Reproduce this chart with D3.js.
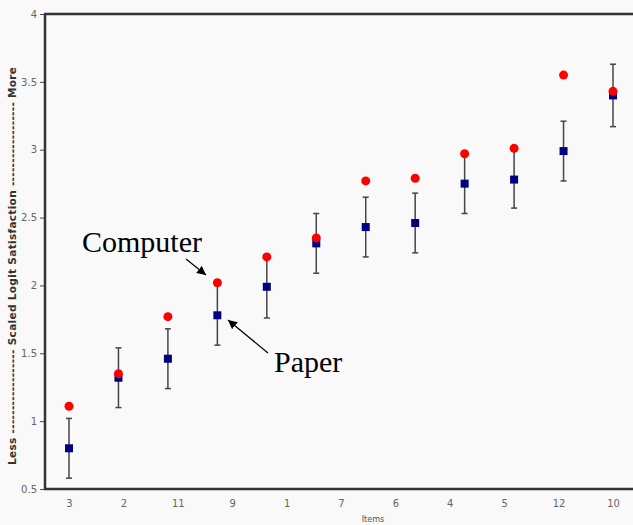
<!DOCTYPE html>
<html>
<head>
<meta charset="utf-8">
<script src="https://cdn.jsdelivr.net/npm/d3@7"></script>
<style>
  body { margin: 0; background: #f9f9f9; }
  svg { display: block; }
</style>
</head>
<body>
<div id="chart"></div>
<script>
// items shown under the axis (11 labels, 12 plotted pairs as in the original figure)
const itemLabels = ["3", "2", "11", "9", "1", "7", "6", "4", "5", "12", "10"];
const computerScores = [1.11, 1.35, 1.77, 2.02, 2.21, 2.35, 2.77, 2.79, 2.97, 3.01, 3.55, 3.43];
const paperScores = [0.80, 1.32, 1.46, 1.78, 1.99, 2.31, 2.43, 2.46, 2.75, 2.78, 2.99, 3.40];
const paperErrors = [0.22, 0.22, 0.22, 0.22, 0.23, 0.22, 0.22, 0.22, 0.22, 0.21, 0.22, 0.23];
const yTicks = [0.5, 1, 1.5, 2, 2.5, 3, 3.5, 4];

const width = 633, height = 525;
const margin = { top: 14, right: 0, bottom: 36, left: 45 };

const svg = d3.select("#chart")
  .append("svg")
  .attr("width", width)
  .attr("height", height);

const y = d3.scaleLinear().domain([0.5, 4]).range([height - margin.bottom, margin.top]);
const x = d3.scaleLinear().domain([0, paperScores.length - 1]).range([69, 613]);
const xLab = d3.scalePoint().domain(itemLabels).range([69, 613]);

// y axis
const yAxis = d3.axisLeft(y).tickValues(yTicks).tickSize(5).tickFormat(d3.format("~g"));
const gy = svg.append("g")
  .attr("transform", "translate(" + margin.left + ",0)")
  .call(yAxis);
gy.select(".domain").remove();
gy.selectAll(".tick line").attr("stroke", "#444");
gy.selectAll(".tick text")
  .attr("x", -8)
  .attr("fill", "#666")
  .style("font-family", "DejaVu Sans, Verdana, sans-serif")
  .style("font-size", "10px");

// x labels
const gx = svg.append("g")
  .attr("transform", "translate(0," + (height - margin.bottom) + ")")
  .call(d3.axisBottom(xLab).tickSize(0).tickPadding(11));
gx.select(".domain").remove();
gx.selectAll(".tick text")
  .attr("fill", "#666")
  .style("font-family", "DejaVu Sans, Verdana, sans-serif")
  .style("font-size", "10px");

// frame: left, top, bottom
const frame = svg.append("g").attr("stroke", "#333").attr("stroke-width", 2.5);
frame.append("line")
  .attr("x1", margin.left).attr("x2", margin.left)
  .attr("y1", margin.top).attr("y2", height - margin.bottom);
frame.append("line")
  .attr("x1", margin.left - 1).attr("x2", width)
  .attr("y1", margin.top).attr("y2", margin.top);
frame.append("line")
  .attr("x1", margin.left - 1).attr("x2", width)
  .attr("y1", height - margin.bottom).attr("y2", height - margin.bottom);

// axis titles
svg.append("text")
  .attr("x", 373).attr("y", 522)
  .attr("text-anchor", "middle")
  .attr("fill", "#555")
  .style("font-family", "DejaVu Sans Condensed, DejaVu Sans, sans-serif")
  .style("font-size", "9px")
  .text("Items");

svg.append("text")
  .attr("transform", "translate(16,266) rotate(-90)")
  .attr("text-anchor", "middle")
  .attr("fill", "#333")
  .attr("textLength", 398)
  .attr("lengthAdjust", "spacing")
  .style("font-family", "DejaVu Sans, Verdana, sans-serif")
  .style("font-weight", "bold")
  .style("font-size", "10.5px")
  .text("Less ------------------ Scaled Logit Satisfaction ------------------ More");

// error bars on paper scores
const bars = svg.append("g").attr("stroke", "#444").attr("stroke-width", 1.5);
paperScores.forEach((v, i) => {
  const cx = x(i), lo = y(v - paperErrors[i]), hi = y(v + paperErrors[i]);
  bars.append("line").attr("x1", cx).attr("x2", cx).attr("y1", lo).attr("y2", hi);
  bars.append("line").attr("x1", cx - 3).attr("x2", cx + 3).attr("y1", lo).attr("y2", lo);
  bars.append("line").attr("x1", cx - 3).attr("x2", cx + 3).attr("y1", hi).attr("y2", hi);
});

// paper: navy squares
svg.append("g").selectAll("rect")
  .data(paperScores)
  .join("rect")
  .attr("x", (d, i) => x(i) - 4)
  .attr("y", d => y(d) - 4)
  .attr("width", 8)
  .attr("height", 8)
  .attr("fill", "#000080");

// computer: red dots
svg.append("g").selectAll("circle")
  .data(computerScores)
  .join("circle")
  .attr("cx", (d, i) => x(i))
  .attr("cy", d => y(d))
  .attr("r", 4.5)
  .attr("fill", "#ff0000");

// annotations
svg.append("defs").append("marker")
  .attr("id", "head")
  .attr("viewBox", "0 0 10 10")
  .attr("refX", 10).attr("refY", 5)
  .attr("markerWidth", 9).attr("markerHeight", 9)
  .attr("markerUnits", "userSpaceOnUse")
  .attr("orient", "auto")
  .append("path")
  .attr("d", "M0,0L10,5L0,10z")
  .attr("fill", "#000");

const serif = "Liberation Serif, Times New Roman, serif";
svg.append("text")
  .attr("x", 82).attr("y", 252)
  .style("font-family", serif)
  .style("font-size", "30px")
  .attr("fill", "#000")
  .text("Computer");
svg.append("line")
  .attr("x1", 186).attr("y1", 259)
  .attr("x2", 206).attr("y2", 275)
  .attr("stroke", "#000").attr("stroke-width", 1.2)
  .attr("marker-end", "url(#head)");

svg.append("text")
  .attr("x", 274).attr("y", 372)
  .style("font-family", serif)
  .style("font-size", "30px")
  .attr("fill", "#000")
  .text("Paper");
svg.append("line")
  .attr("x1", 268).attr("y1", 353)
  .attr("x2", 228).attr("y2", 320)
  .attr("stroke", "#000").attr("stroke-width", 1.2)
  .attr("marker-end", "url(#head)");
</script>
</body>
</html>
